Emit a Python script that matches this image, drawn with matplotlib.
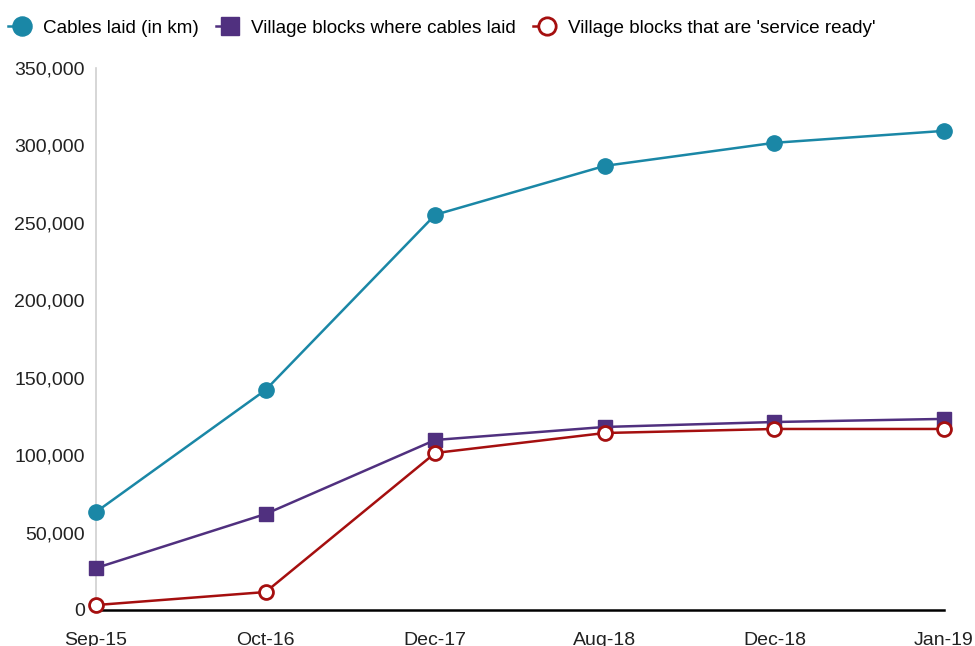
import matplotlib
matplotlib.use("Agg")
import matplotlib.pyplot as plt
from matplotlib.legend_handler import HandlerLine2D
from matplotlib.ticker import FuncFormatter

plt.rcParams['font.family'] = ['Liberation Sans', 'DejaVu Sans']

categories = ["Sep-15", "Oct-16", "Dec-17", "Aug-18", "Dec-18", "Jan-19"]
cables_km = [63300, 142100, 255200, 286800, 301700, 309400]
blocks_cables = [27100, 62000, 109800, 118200, 121400, 123400]
blocks_ready = [3200, 11600, 101400, 114300, 116900, 116900]
y_ticks = [0, 50000, 100000, 150000, 200000, 250000, 300000, 350000]

c_teal = "#1a87a6"
c_purple = "#50307f"
c_red = "#a50f0f"

fig = plt.figure(figsize=(9.75, 6.46), dpi=100)
ax = fig.add_axes([96/975, 1-610/646, (944-96)/975, (610-68)/646])

x = list(range(len(categories)))
ax.plot(x, cables_km, color=c_teal, lw=1.8, marker='o', ms=11, label="Cables laid (in km)", clip_on=False, zorder=3)
ax.plot(x, blocks_cables, color=c_purple, lw=1.8, marker='s', ms=10.5, label="Village blocks where cables laid", clip_on=False, zorder=3)
ax.plot(x, blocks_ready, color=c_red, lw=1.8, marker='o', ms=10, mfc='white', mec=c_red, mew=2,
        label="Village blocks that are 'service ready'", clip_on=False, zorder=4)

ax.set_xlim(0, len(categories)-1)
ax.set_ylim(0, 350000)
ax.set_yticks(y_ticks)
ax.yaxis.set_major_formatter(FuncFormatter(lambda v, p: f"{int(v):,}"))
ax.set_xticks(x)
ax.set_xticklabels(categories)
ax.tick_params(axis='both', length=0, labelsize=14, colors='#222222')
ax.tick_params(axis='y', pad=8)
ax.tick_params(axis='x', pad=16)

for s in ['top', 'right']:
    ax.spines[s].set_visible(False)
ax.spines['left'].set_color('#d0d0d0')
ax.spines['left'].set_linewidth(1.2)
ax.spines['bottom'].set_color('black')
ax.spines['bottom'].set_linewidth(1.8)
ax.spines['bottom'].set_zorder(2)


class HalfLineHandler(HandlerLine2D):
    def create_artists(self, legend, orig_handle, xdescent, ydescent, width, height, fontsize, trans):
        arts = super().create_artists(legend, orig_handle, xdescent, ydescent, width, height, fontsize, trans)
        line = arts[0]
        xd = list(line.get_xdata())
        yd = list(line.get_ydata())
        mid = (xd[0] + xd[-1]) / 2
        line.set_data([xd[0], mid], [yd[0], yd[0]])
        return arts


handles, labels = ax.get_legend_handles_labels()
leg = fig.legend(handles, labels, loc='upper left', bbox_to_anchor=(-0.007, 0.993), ncol=3, frameon=False,
                 fontsize=13.6, handlelength=1.5, handletextpad=0.35, columnspacing=0.9, borderaxespad=0.4,
                 markerscale=1.25,
                 handler_map={type(handles[0]): HalfLineHandler(numpoints=1)})

fig.savefig("out.png", dpi=100)
